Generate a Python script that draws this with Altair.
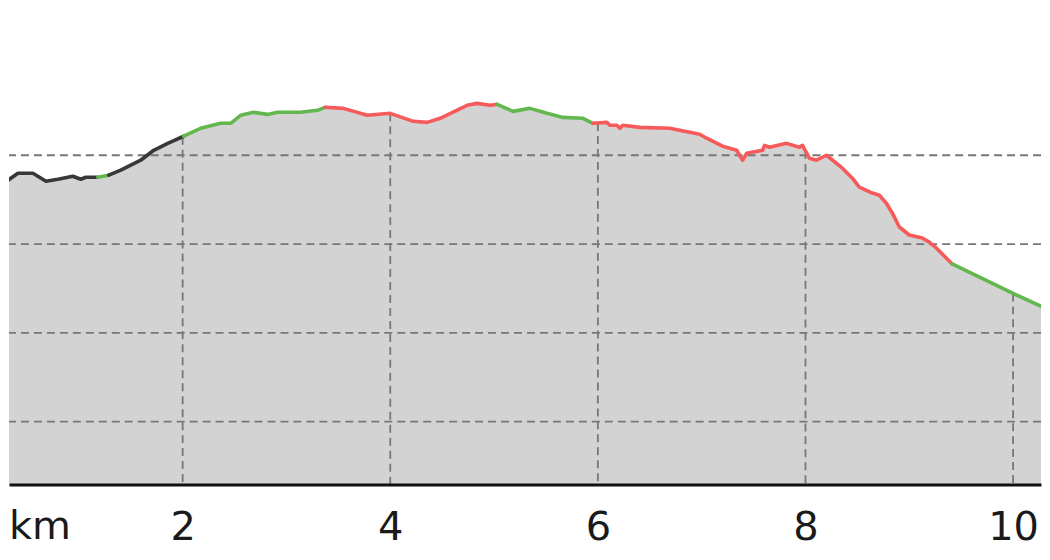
import altair as alt
import numpy as np
import pandas as pd

# Elevation profile (distance in km, elevation in m)
km = [0.25, 0.413, 0.558, 0.683, 0.798, 0.942, 1.019, 1.067, 1.183, 1.288,
      1.404, 1.596, 1.721, 1.856, 2.01, 2.173, 2.365, 2.462, 2.558, 2.683,
      2.817, 2.913, 3.135, 3.298, 3.375, 3.548, 3.779, 4.0, 4.221, 4.356,
      4.481, 4.74, 4.837, 4.962, 5.029, 5.183, 5.346, 5.51, 5.663, 5.856,
      5.952, 6.087, 6.115, 6.183, 6.212, 6.24, 6.404, 6.692, 6.981, 7.048,
      7.202, 7.337, 7.394, 7.433, 7.587, 7.606, 7.654, 7.817, 7.942, 7.971,
      8.038, 8.106, 8.202, 8.356, 8.452, 8.519, 8.644, 8.712, 8.779, 8.837,
      8.904, 9.0, 9.125, 9.192, 9.26, 9.337, 9.413, 9.99, 10.346]
elev = [233.1, 239.9, 239.9, 235.4, 236.5, 238.2, 236.5, 237.6, 237.6, 238.8,
        241.6, 247.2, 252.8, 256.7, 260.7, 265.2, 268.0, 268.0, 272.5, 274.2,
        273.0, 274.2, 274.2, 275.3, 277.0, 276.4, 272.5, 273.6, 269.1, 268.5,
        270.8, 278.1, 279.2, 278.1, 278.7, 274.7, 276.4, 273.6, 271.3, 270.8,
        268.0, 268.5, 266.9, 266.9, 265.2, 266.9, 265.7, 265.2, 261.8, 259.6,
        255.1, 252.8, 247.2, 251.1, 252.8, 255.6, 254.5, 256.7, 254.5, 255.6,
        248.3, 247.2, 250.0, 242.7, 237.1, 232.0, 228.7, 227.5, 223.0, 217.4,
        209.6, 205.1, 203.4, 201.1, 197.8, 193.3, 188.8, 172.5, 162.9]

# Coloured stretches of the profile: start km and class
seg_start = [0.25, 1.183, 1.288, 2.01, 3.375, 5.029, 5.952, 9.413]
seg_class = ["dark", "green", "dark", "green", "red", "green", "red", "green"]

class_names = ["dark", "green", "red"]
class_colors = ["#383838", "#62b84e", "#f75a5a"]

x_ticks = [2, 4, 6, 8, 10]
y_grid = [100, 150, 200, 250]

x_domain = [0.327, 10.269]
y_domain = [64.6, 332.6]
base = y_domain[0]

W, H = 1034, 477

profile = pd.DataFrame({"km": km, "elev": elev, "base": base})

rows = []
bounds = seg_start + [km[-1] + 1]
for i, cls in enumerate(seg_class):
    lo, hi = bounds[i], bounds[i + 1]
    for k, e in zip(km, elev):
        if lo - 1e-9 <= k <= hi + 1e-9:
            rows.append({"km": k, "elev": e, "seg": i, "cls": cls})
lines = pd.DataFrame(rows)

vgrid = pd.DataFrame({"km": x_ticks,
                      "top": np.interp(x_ticks, km, elev),
                      "base": base})
hgrid = pd.DataFrame({"elev": y_grid})

xs = alt.Scale(domain=x_domain, nice=False, zero=False)
ys = alt.Scale(domain=y_domain, nice=False, zero=False)

xaxis = alt.Axis(values=x_ticks, grid=False, ticks=False, domain=True,
                 domainColor="#111111", domainWidth=3, labelFont="DejaVu Sans",
                 labelFontSize=40, labelColor="#1a1a1a", labelPadding=55,
                 labelBaseline="alphabetic", labelFlush=False,
                 labelOverlap=False, title=None, zindex=1, format="d")

area = alt.Chart(profile).mark_area(color="#d3d3d3", clip=True).encode(
    x=alt.X("km:Q", scale=xs, axis=xaxis),
    y=alt.Y("elev:Q", scale=ys, axis=None),
    y2="base:Q",
)

grid_style = dict(color="#777777", strokeWidth=1.8, strokeDash=[8, 5])

hrules = alt.Chart(hgrid).mark_rule(**grid_style).encode(
    y=alt.Y("elev:Q", scale=ys),
)

vrules = alt.Chart(vgrid).mark_rule(**grid_style).encode(
    x=alt.X("km:Q", scale=xs),
    y=alt.Y("top:Q", scale=ys),
    y2="base:Q",
)

line = alt.Chart(lines).mark_line(strokeWidth=3.6, strokeJoin="round",
                                  strokeCap="round", clip=True).encode(
    x=alt.X("km:Q", scale=xs),
    y=alt.Y("elev:Q", scale=ys),
    color=alt.Color("cls:N", scale=alt.Scale(domain=class_names,
                                             range=class_colors), legend=None),
    detail="seg:N",
    order="km:Q",
)

unit = alt.Chart(pd.DataFrame({"t": ["km"]})).mark_text(
    font="DejaVu Sans", fontSize=40, color="#1a1a1a", align="left",
    baseline="alphabetic").encode(
    x=alt.value(0),
    y=alt.value(H + 55),
    text="t:N",
)

chart = alt.layer(area, hrules, vrules, line, unit).properties(
    width=W, height=H, padding=0
).configure_view(strokeWidth=0)

chart.save("out.html", embed_options={"renderer": "svg", "actions": False})
